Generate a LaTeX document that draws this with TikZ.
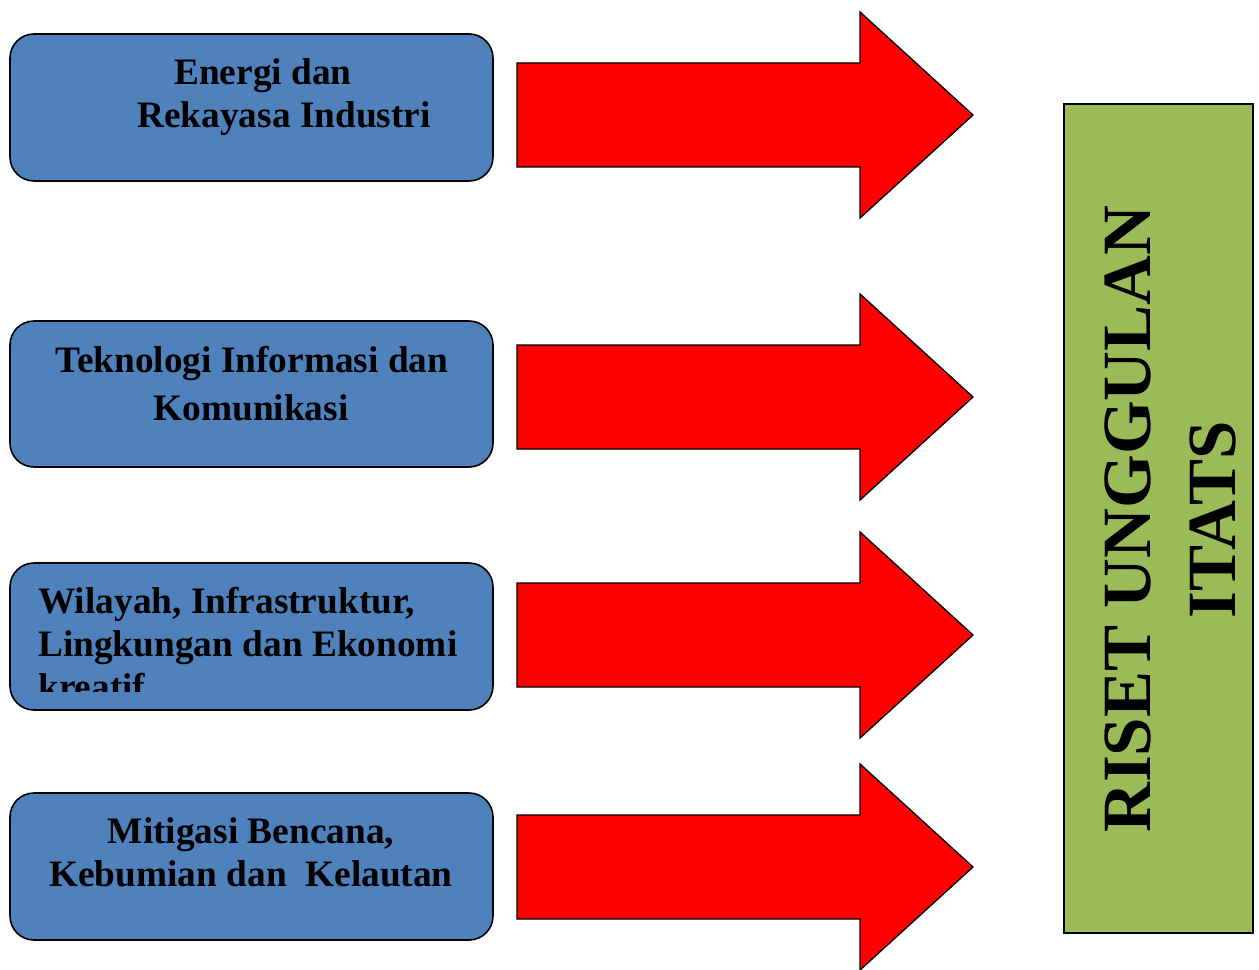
\documentclass[tikz,border=0pt]{standalone}
\usepackage{fontspec}
\setmainfont{Liberation Serif}
\definecolor{boxblue}{HTML}{4F81BD}
\definecolor{arrred}{HTML}{FF0000}
\definecolor{riset}{HTML}{9BBB59}
\begin{document}
\begin{tikzpicture}[x=0.75pt,y=-0.75pt,
  topicbox/.style={draw=black, line width=1.2pt, fill=boxblue, rounded corners=18pt},
  bigarrow/.style={draw=black, line width=1pt, fill=arrred},
  lbl/.style={inner sep=0pt, font=\fontsize{28}{32}\selectfont\bfseries},
  vlbl/.style={inner sep=0pt, rotate=90, font=\fontsize{51.8}{60}\selectfont\bfseries}]
\useasboundingbox (0,0) rectangle (1259,970);
% topic boxes
\draw[topicbox] (10,34) rectangle (493,181);
\draw[topicbox] (10,321) rectangle (493,467);
\draw[topicbox] (10,563) rectangle (493,710);
\draw[topicbox] (10,793) rectangle (493,940);
% arrows
\foreach \c in {115,397,635,867}{
  \draw[bigarrow] (517,\c-52) -- (860,\c-52) -- (860,\c-103) -- (973,\c) -- (860,\c+103) -- (860,\c+52) -- (517,\c+52) -- cycle;
}
% green box
\draw[draw=black, line width=1.2pt, fill=riset] (1064,104) rectangle (1253,933);
% labels
\node[lbl, anchor=base west] (e1) at (174,85) {Energi dan};
\node[lbl, anchor=base west] (e2) at (137,128) {Rekayasa Industri};
\node[lbl, anchor=base] (t1) at (252,372) {Teknologi Informasi dan};
\node[lbl, anchor=base] (t2) at (251,420) {Komunikasi};
\begin{scope}
\clip (10,563) rectangle (493,691);
\node[lbl, anchor=base west] (w1) at (38,613) {Wilayah, Infrastruktur,};
\node[lbl, anchor=base west] (w2) at (38,656) {Lingkungan dan Ekonomi};
\node[lbl, anchor=base west] (w3) at (38,699) {kreatif};
\end{scope}
\node[lbl, anchor=base] (m1) at (251,843) {Mitigasi Bencana,};
\node[lbl, anchor=base] (m2) at (251,886) {Kebumian dan\ \ Kelautan};
\node[vlbl, anchor=base west] (r1) at (1150,833) {RISET UNGGULAN};
\node[vlbl, anchor=base] (r2) at (1235,520) {ITATS};
\end{tikzpicture}
\end{document}
